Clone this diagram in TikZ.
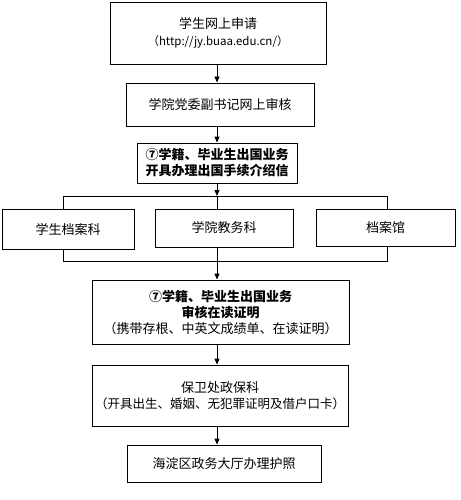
\documentclass[tikz,border=0pt]{standalone}
\usepackage{fontspec}
\setmainfont{Noto Sans CJK SC}
\usetikzlibrary{arrows.meta}
\tikzset{
  box/.style={draw=black, line width=0.9pt, fill=white, inner sep=0pt, align=center,
    font=\fontsize{13}{16}\selectfont},
  arr/.style={line width=0.9pt, -{Triangle[length=6pt,width=5pt]}},
  ln/.style={line width=0.9pt}
}
\begin{document}
\begin{tikzpicture}[x=1pt,y=-1pt]
\useasboundingbox (0,0) rectangle (460,500);
\fill[white] (0,0) rectangle (460,500);
\coordinate (spine) at (217,0);
\node[box, minimum width=216pt, minimum height=62pt] (b1) at (218,33)
  {学生网上申请\\[1pt]{\fontsize{11.5}{14}\selectfont（http://jy.buaa.edu.cn/）}};
\node[box, minimum width=188pt, minimum height=43pt] (b2) at (220,104.5) {学院党委副书记网上审核};
\node[box, minimum width=160pt, minimum height=40pt, font=\fontsize{13}{16}\selectfont\bfseries] (b3) at (217,163)
  {⑦学籍、毕业生出国业务\\开具办理出国手续介绍信};
\node[box, minimum width=132pt, minimum height=40pt] (bA) at (68,229) {学生档案科};
\node[box, minimum width=138pt, minimum height=38pt] (bB) at (224,228) {学院教务科};
\node[box, minimum width=139pt, minimum height=37pt] (bC) at (385.5,227.5) {档案馆};
\node[box, minimum width=257pt, minimum height=64pt] (b4) at (220.5,312)
  {\textbf{⑦学籍、毕业生出国业务}\\\textbf{审核在读证明}\\（携带存根、中英文成绩单、在读证明）};
\node[box, minimum width=256pt, minimum height=61pt] (b5) at (220,395.5)
  {保卫处政保科\\{\fontsize{12.5}{16}\selectfont（开具出生、婚姻、无犯罪证明及借户口卡）}};
\node[box, minimum width=194pt, minimum height=37pt] (b6) at (224,463.5) {海淀区政务大厅办理护照};
\coordinate (tl) at (63,196);
\coordinate (tr) at (387,196);
\coordinate (tm) at (217,196);
\coordinate (bl) at (63,261);
\coordinate (br) at (387,261);
\coordinate (bm) at (217,261);
\draw[arr] (b1.south -| spine) -- (b2.north -| spine);
\draw[arr] (b2.south -| spine) -- (b3.north -| spine);
\draw[arr] (b3.south -| spine) -- (tm);
\draw[ln] (tl) -- (tr);
\draw[ln] (tl) -- (bA.north -| tl);
\draw[ln] (tm) -- (bB.north -| tm);
\draw[ln] (tr) -- (bC.north -| tr);
\draw[ln] (bA.south -| bl) -- (bl) -- (br) -- (bC.south -| br);
\draw[ln] (bB.south -| bm) -- (bm);
\draw[arr] (bm) -- (b4.north -| spine);
\draw[arr] (b4.south -| spine) -- (b5.north -| spine);
\draw[arr] (b5.south -| spine) -- (b6.north -| spine);
\end{tikzpicture}
\end{document}
